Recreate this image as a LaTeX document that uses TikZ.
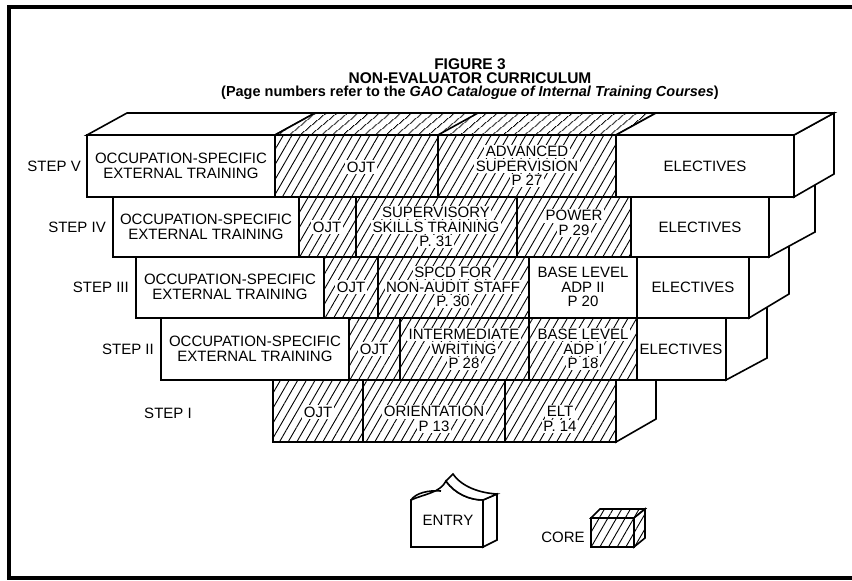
\documentclass[tikz,border=0pt]{standalone}
\usepackage{fontspec}
\setmainfont{Liberation Sans}
\usetikzlibrary{patterns.meta}
\newcommand\cellfont{\fontsize{15}{14.5}\selectfont}
\newcommand\ttlfont{\fontsize{14.5}{14.5}\selectfont\bfseries}
\newcommand\ttlbig{\fontsize{15.5}{14.5}\selectfont\bfseries}
\newcommand\hb[1]{{\setlength{\fboxsep}{1.5pt}\colorbox{white}{#1}}}
\tikzset{
  edge/.style={line width=1.6pt, line join=miter},
  face/.style={edge, draw, fill=white},
  hatchf/.style={edge, draw, preaction={fill=white}, pattern={Lines[angle=60,distance=7.5pt,line width=0.9pt]}},
  hatchtop/.style={edge, draw, preaction={fill=white}, pattern={Lines[angle=40,distance=6.5pt,line width=0.9pt]}},
  lbl/.style={font=\cellfont, align=center, inner sep=0pt},
  steplbl/.style={font=\cellfont, anchor=east, inner sep=0pt},
  ttl/.style={font=\ttlfont, inner sep=0pt},
  ttlb/.style={font=\ttlbig, inner sep=0pt},
}
\begin{document}
\begin{tikzpicture}[x=1pt,y=-1pt]
\useasboundingbox (0,0) rectangle (852,581);
\clip (0,0) rectangle (852,581);
% frame
\draw[line width=4.5pt] (870,7) -- (9,7) -- (9,578) -- (870,578);
% title
\node[ttlb] (t1) at (470,64) {FIGURE 3};
\node[ttlb] (t2) at (470,78) {NON-EVALUATOR CURRICULUM};
\node[ttl] (t3) at (470,93) {(Page numbers refer to the \textit{GAO Catalogue of Internal Training Courses})};

% ---------- STEP I ----------
\draw[face] (616,380) -- (656,357) -- (656,419) -- (616,442) -- cycle;
\path[hatchf] (273,380) rectangle (363,442);
\path[hatchf] (363,380) rectangle (505,442);
\path[hatchf] (505,380) rectangle (616,442);
\node[lbl] (i1) at (318,412) {\hb{OJT}};
\node[lbl] (i2) at (434,419) {\hb{ORIENTATION}\\\hb{P 13}};
\node[lbl] (i3) at (560,419) {\hb{ELT}\\\hb{P. 14}};
\node[font=\cellfont, inner sep=0pt] (s1) at (168,413) {STEP I};

% ---------- STEP II ----------
\draw[face] (726,318) -- (767,295) -- (767,358) -- (726,380) -- cycle;
\draw[face] (161,318) rectangle (349,380);
\path[hatchf] (349,318) rectangle (400,380);
\path[hatchf] (400,318) rectangle (529,380);
\path[hatchf] (529,318) rectangle (637,380);
\draw[face] (637,318) rectangle (726,380);
\node[lbl] (ii1) at (255,349) {OCCUPATION-SPECIFIC\\EXTERNAL TRAINING};
\node[lbl] (ii2) at (374,349) {\hb{OJT}};
\node[lbl] (ii3) at (464,349) {\hb{INTERMEDIATE}\\\hb{WRITING}\\\hb{P 28}};
\node[lbl] (ii4) at (583,349) {\hb{BASE LEVEL}\\\hb{ADP I}\\\hb{P 18}};
\node[lbl] (ii5) at (681,349) {ELECTIVES};
\node[steplbl] (s2) at (154,349) {STEP II};

% ---------- STEP III ----------
\draw[face] (749,257) -- (789,234) -- (789,294) -- (749,318) -- cycle;
\draw[face] (136,257) rectangle (324,318);
\path[hatchf] (324,257) rectangle (378,318);
\path[hatchf] (378,257) rectangle (529,318);
\draw[face] (529,257) rectangle (637,318);
\draw[face] (637,257) rectangle (749,318);
\node[lbl] (iii1) at (230,287) {OCCUPATION-SPECIFIC\\EXTERNAL TRAINING};
\node[lbl] (iii2) at (351,287) {\hb{OJT}};
\node[lbl] (iii3) at (453,287) {\hb{SPCD FOR}\\\hb{NON-AUDIT STAFF}\\\hb{P. 30}};
\node[lbl] (iii4) at (583,287) {BASE LEVEL\\ADP II\\P 20};
\node[lbl] (iii5) at (693,287) {ELECTIVES};
\node[steplbl] (s3) at (129,287) {STEP III};

% ---------- STEP IV ----------
\draw[face] (769,197) -- (815,172) -- (815,232) -- (769,257) -- cycle;
\draw[face] (113,197) rectangle (299,257);
\path[hatchf] (299,197) rectangle (356,257);
\path[hatchf] (356,197) rectangle (517,257);
\path[hatchf] (517,197) rectangle (631,257);
\draw[face] (631,197) rectangle (769,257);
\node[lbl] (iv1) at (206,227) {OCCUPATION-SPECIFIC\\EXTERNAL TRAINING};
\node[lbl] (iv2) at (327,227) {\hb{OJT}};
\node[lbl] (iv3) at (436,227) {\hb{SUPERVISORY}\\\hb{SKILLS TRAINING}\\\hb{P. 31}};
\node[lbl] (iv4) at (574,223) {\hb{POWER}\\\hb{P 29}};
\node[lbl] (iv5) at (700,227) {ELECTIVES};
\node[steplbl] (s4) at (106,227) {STEP IV};

% ---------- STEP V ----------
\draw[face] (794,135) -- (834,113) -- (834,174) -- (794,197) -- cycle;
\draw[face] (87,135) -- (127,113) -- (315,113) -- (275,135) -- cycle;
\path[hatchtop] (275,135) -- (315,113) -- (656,113) -- (616,135) -- cycle;
\draw[edge] (438,135) -- (478,113);
\draw[face] (616,135) -- (656,113) -- (834,113) -- (794,135) -- cycle;
\draw[face] (87,135) rectangle (275,197);
\path[hatchf] (275,135) rectangle (438,197);
\path[hatchf] (438,135) rectangle (616,197);
\draw[face] (616,135) rectangle (794,197);
\node[lbl] (v1) at (181,166) {OCCUPATION-SPECIFIC\\EXTERNAL TRAINING};
\node[lbl] (v2) at (361,167) {\hb{OJT}};
\node[lbl] (v3) at (527,166) {\hb{ADVANCED}\\\hb{SUPERVISION}\\\hb{P 27}};
\node[lbl] (v4) at (705,166) {ELECTIVES};
\node[steplbl] (s5) at (81,166) {STEP V};

% ---------- legend: ENTRY ----------
\draw[face] (411,547) -- (411,500) .. controls (424,494) and (440,493) .. (446,481)
      .. controls (455,494) and (470,500) .. (483,500) -- (483,547) -- cycle;
\draw[face] (483,500) -- (497,494) -- (497,540) -- (483,547) -- cycle;
\draw[face] (446,481) -- (453,474) .. controls (462,487) and (480,493) .. (497,494)
      -- (483,500) .. controls (470,500) and (455,494) .. (446,481) -- cycle;
\draw[edge] (411,500) .. controls (416,493) and (428,490) .. (441,491);
\node[lbl] (entry) at (448,520) {ENTRY};

% ---------- legend: CORE ----------
\path[hatchf] (591,518) rectangle (634,547);
\path[hatchf] (591,518) -- (600,509) -- (645,509) -- (634,518) -- cycle;
\path[hatchf] (634,518) -- (645,509) -- (645,538) -- (634,547) -- cycle;
\node[lbl] (core) at (563,537) {CORE};
\end{tikzpicture}
\end{document}
